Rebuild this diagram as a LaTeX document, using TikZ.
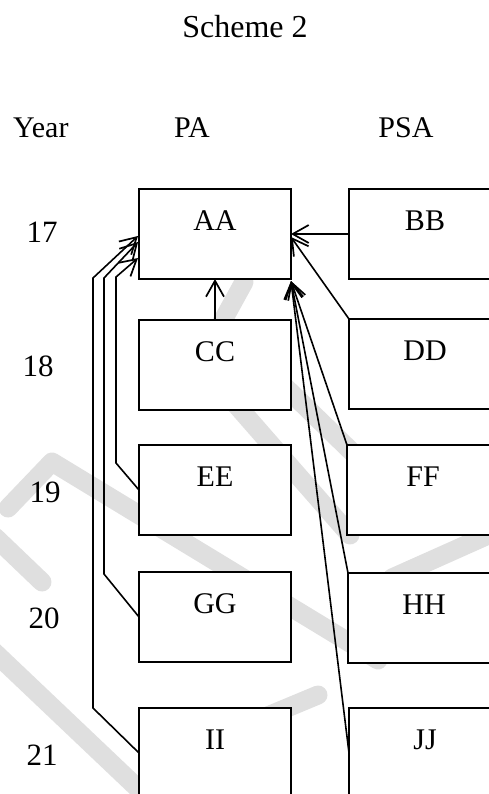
\documentclass[tikz,border=0pt]{standalone}
\usepackage{fontspec}
\setmainfont{Liberation Serif}
\usetikzlibrary{arrows.meta,calc}

\definecolor{mark}{gray}{0.875}

\begin{document}
\begin{tikzpicture}[x=1pt,y=-1pt,
  box/.style={draw, fill=white, line width=1.7pt, minimum width=152pt, minimum height=90pt,
              anchor=north west, inner sep=0pt, outer sep=0pt},
  boxtext/.style={anchor=base, font=\fontsize{30}{30}\selectfont, inner sep=0pt},
  head/.style={anchor=base, font=\fontsize{30}{30}\selectfont, inner sep=0pt},
  yearno/.style={anchor=base, font=\fontsize{31}{31}\selectfont, inner sep=0pt},
  band/.style={draw=mark, line width=19pt, line cap=round, line join=round},
  link/.style={line width=1.6pt, line join=miter,
               -{Straight Barb[length=16pt,width=18pt,line width=1.7pt]}}
]
\useasboundingbox (0,0) rectangle (489,794);

% light background bands
\begin{scope}
  \clip (0,0) rectangle (489,794);
  \draw[band] (244,282) -- (222,322);
  \draw[band] (232,400) -- (350,535);
  \draw[band] (278,380) -- (352,452);
  \draw[band] (8,508) -- (52,462) -- (378,660);
  \draw[band] (-5,537) -- (42,582);
  \draw[band] (-10,648) -- (150,800);
  \draw[band] (222,735) -- (318,695);
  \draw[band] (392,578) -- (495,532);
\end{scope}

% title and column headings
\node[anchor=base, font=\fontsize{32}{32}\selectfont, inner sep=0pt] (title) at (245,38) {Scheme 2};
\node[head, anchor=base west] (hyear) at (13,138) {Year};
\node[head] (hpa) at (192,138) {PA};
\node[head] (hpsa) at (406,138) {PSA};

% year labels
\node[yearno] (y17) at (42,242) {17};
\node[yearno] (y18) at (38,376) {18};
\node[yearno] (y19) at (45,502) {19};
\node[yearno] (y20) at (44,628) {20};
\node[yearno] (y21) at (42,765) {21};

% PA column
\node[box] (aa) at (139,189) {};
\node[box] (cc) at (139,320) {};
\node[box] (ee) at (139,445) {};
\node[box] (gg) at (139,572) {};
\node[box] (ii) at (139,708) {};

% PSA column
\node[box] (bb) at (349,189) {};
\node[box] (dd) at (349,319) {};
\node[box] (ff) at (347,445) {};
\node[box] (hh) at (348,573) {};
\node[box] (jj) at (349,708) {};

% box captions
\foreach \b/\t in {aa/AA, cc/CC, ee/EE, gg/GG, ii/II, bb/BB, dd/DD, ff/FF, hh/HH, jj/JJ}
  \node[boxtext] (\b t) at ($(\b.north)+(0,41)$) {\t};

% links into AA from the right
\draw[link] (bb.west) -- (aa.east);
\draw[link] (dd.north west) -- ($(aa.east)+(0,3)$);
\draw[link] (ff.north west) -- ($(aa.south east)+(0,2)$);
\draw[link] (hh.north west) -- ($(aa.south east)+(0,2)$);
\draw[link] (jj.west) -- ($(aa.south east)+(0,2)$);

% link into AA from below
\draw[link] (cc.north) -- (aa.south);

% links into AA from the left
\draw[link] (ee.west) -- (116,463) -- (116,277) -- ($(aa.west)+(-1,24)$);
\draw[link] (gg.west) -- (104,574) -- (104,278) -- ($(aa.west)+(-1,8)$);
\draw[link] (ii.west) -- (93,708) -- (93,278) -- ($(aa.west)+(-1,2)$);
\end{tikzpicture}
\end{document}
